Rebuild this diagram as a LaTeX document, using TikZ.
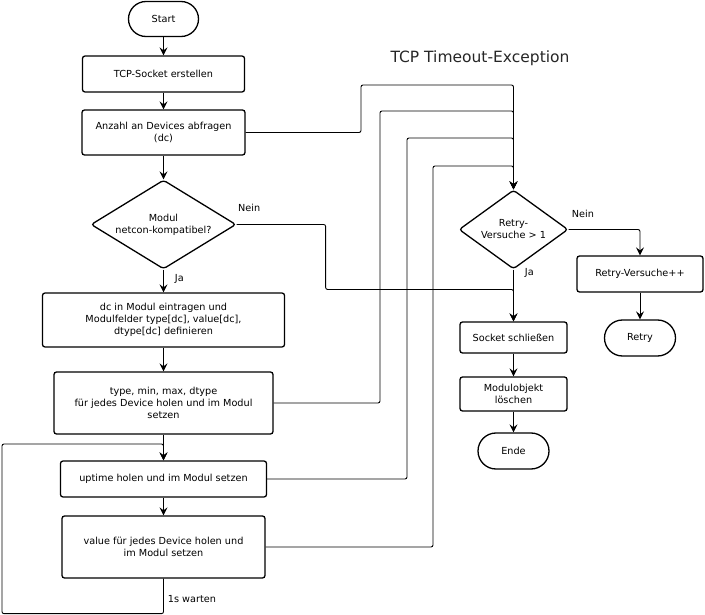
\documentclass[tikz,border=0pt]{standalone}
\usepackage{fontspec}
\setmainfont{DejaVu Sans}
\usetikzlibrary{shapes.geometric,shapes.misc,arrows.meta}

\tikzset{
    base/.style={draw, line width=1.3pt, align=center, inner sep=1pt, font=\fontsize{9.7}{12}\selectfont},
    terminal/.style={base, rounded rectangle, minimum width=72pt, minimum height=35pt},
    process/.style={base, rectangle, rounded corners=2.5pt},
    decision/.style={base, diamond, inner sep=0pt, rounded corners=3pt},
    line/.style={draw, line width=0.9pt, rounded corners=2pt},
    arrow/.style={line, -{Stealth[length=8pt, width=8pt, inset=3pt]}},
    edgetext/.style={font=\fontsize{9.7}{12}\selectfont, inner sep=1pt}
}

\begin{document}
\begin{tikzpicture}[x=1pt, y=-1pt]

    \useasboundingbox (0,0) rectangle (705,615);

    \node[terminal] (start) at (163.5,19) {Start};
    \node[process, minimum width=162pt, minimum height=36pt] (socket) at (163.5,74) {TCP-Socket erstellen};
    \node[process, minimum width=163pt, minimum height=45pt] (count) at (163.5,132.5) {Anzahl an Devices abfragen\\(dc)};
    \node[decision, aspect=1.63, minimum width=145pt, minimum height=89pt] (compat) at (163.5,224.5) {Modul\\netcon-kompatibel?};
    \node[process, minimum width=242pt, minimum height=54pt] (fields) at (163.5,320) {dc in Modul eintragen und\\Modulfelder type[dc], value[dc],\\dtype[dc] definieren};
    \node[process, minimum width=219pt, minimum height=62pt] (types) at (163.5,403) {type, min, max, dtype\\für jedes Device holen und im Modul\\setzen};
    \node[process, minimum width=206pt, minimum height=36pt] (uptime) at (163.5,479) {uptime holen und im Modul setzen};
    \node[process, minimum width=203pt, minimum height=62pt] (values) at (163.5,547) {value für jedes Device holen und\\im Modul setzen};

    \node[font=\fontsize{15.5}{18}\selectfont, text=black!85] (title) at (480,58) {TCP Timeout-Exception};

    \node[decision, aspect=1.38, minimum width=109pt, minimum height=79pt] (retries) at (513.5,229.5) {Retry-\\Versuche > 1};
    \node[process, minimum width=126pt, minimum height=36pt] (incr) at (640,274) {Retry-Versuche++};
    \node[terminal, minimum width=73pt, minimum height=36pt] (retry) at (640,338) {Retry};
    \node[process, minimum width=107pt, minimum height=31pt] (close) at (513.5,337.5) {Socket schließen};
    \node[process, minimum width=107pt, minimum height=34pt] (delete) at (513.5,394) {Modulobjekt\\löschen};
    \node[terminal, minimum width=73pt, minimum height=36pt] (ende) at (513.5,451) {Ende};

    \draw[arrow] (start) -- (socket);
    \draw[arrow] (socket) -- (count);
    \draw[arrow] (count) -- (compat);
    \draw[arrow] (compat) -- node[edgetext, pos=0.4, right, xshift=10pt] (compatyes) {Ja} (fields);
    \draw[arrow] (fields) -- (types);
    \draw[arrow] (types) -- (uptime);
    \draw[arrow] (uptime) -- (values);
    \draw[arrow] (values.south) -- ++(0,35) node[edgetext, pos=0.57, right, xshift=3pt] (wait) {1s warten} -| (2,444) -| (uptime.north);

    \draw[arrow] (compat.east) -| ++(89,65) node[edgetext, pos=0, above right, yshift=11pt] (compatno) {Nein} -| (close.north);

    \foreach \src/\x/\y in {count/361/85, types/380/111, uptime/407/138, values/433/166}
        \draw[arrow] (\src.east) -| (\x,\y) -| (retries.north);

    \draw[arrow] (retries.east) -| node[edgetext, pos=0.1, above, yshift=10pt] (retriesno) {Nein} (incr.north);
    \draw[arrow] (retries.south) -- node[edgetext, pos=0.06, right, xshift=10pt] (retriesyes) {Ja} (close.north);
    \draw[arrow] (incr) -- (retry);
    \draw[arrow] (close) -- (delete);
    \draw[arrow] (delete) -- (ende);

\end{tikzpicture}
\end{document}
